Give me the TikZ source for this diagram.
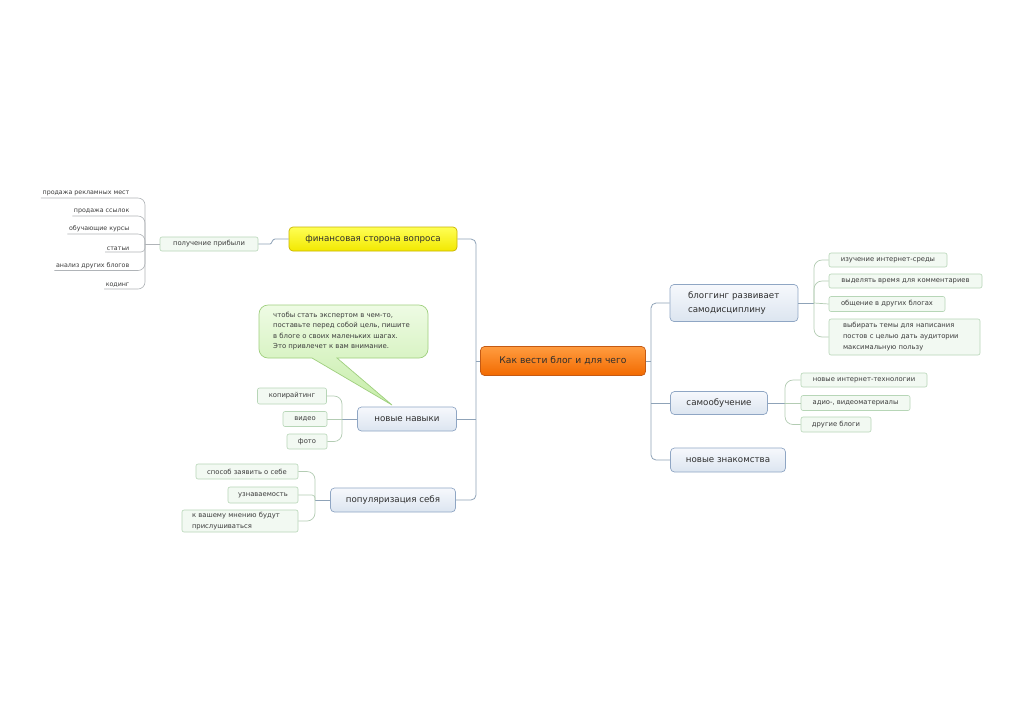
\documentclass[tikz,border=0pt]{standalone}
\usepackage{fontspec}
\setmainfont{DejaVu Sans}
\definecolor{connc}{HTML}{8FA3B8}
\definecolor{ulc}{HTML}{B0B4B8}
\definecolor{lconn}{HTML}{B3CCB3}
\definecolor{mainb}{HTML}{8FA6C4}
\definecolor{maint}{HTML}{F6F8FC}
\definecolor{mainbot}{HTML}{DCE5F0}
\definecolor{leafb}{HTML}{B7D6B7}
\definecolor{leaff}{HTML}{F2F9F2}
\definecolor{txt}{HTML}{2E2E2E}
\definecolor{txtb}{HTML}{3C3C3C}
\definecolor{orT}{HTML}{FF9C40}
\definecolor{orB}{HTML}{F26A00}
\definecolor{orD}{HTML}{C45A14}
\definecolor{yeT}{HTML}{FFFF55}
\definecolor{yeB}{HTML}{F2E800}
\definecolor{yeD}{HTML}{C9B400}
\definecolor{clT}{HTML}{EEFBE4}
\definecolor{clB}{HTML}{C6EDA8}
\definecolor{clD}{HTML}{9FCF7E}
\begin{document}
\begin{tikzpicture}[x=1pt,y=-1pt,
  conn/.style={draw=connc, line width=0.8pt, rounded corners=5pt},
  ulconn/.style={draw=ulc, line width=0.6pt, rounded corners=7pt},
  lfconn/.style={draw=lconn, line width=0.7pt, rounded corners=8pt},
  mainbox/.style={draw=mainb, line width=0.7pt, rounded corners=4pt, top color=maint, bottom color=mainbot, font=\fontsize{8.7}{13.5}\selectfont, text=txt, inner sep=0pt},
  centralbox/.style={draw=orD, line width=0.7pt, rounded corners=4pt, top color=orT, bottom color=orB, font=\fontsize{9.2}{12}\selectfont, text=txt, inner sep=0pt},
  finbox/.style={draw=yeD, line width=0.7pt, rounded corners=4pt, top color=yeT, bottom color=yeB, font=\fontsize{8.7}{12}\selectfont, text=txt, inner sep=0pt},
  leafbox/.style={draw=leafb, line width=0.6pt, rounded corners=2pt, fill=leaff, font=\fontsize{6.8}{11}\selectfont, text=txtb, inner sep=0pt},
  uleaf/.style={font=\fontsize{6.3}{8}\selectfont, inner sep=1.5pt, text=txtb, anchor=south east},
  notetext/.style={font=\fontsize{6.9}{10.3}\selectfont, text=txtb, inner sep=0pt, align=left, anchor=north west}
]
\useasboundingbox[fill=white] (0,0) rectangle (1024,724);

% callout
\draw[draw=clD, line width=0.7pt, top color=clT, bottom color=clB]
  (312,358) [sharp corners]-- (392,405) -- (337,358) [rounded corners=9pt]-- (428,358) -- (428,305) -- (259,305) -- (259,358) [sharp corners]-- cycle;
\node[notetext] (note) at (273,312) {чтобы стать экспертом в чем-то,\\поставьте перед собой цель, пишите\\в блоге о своих маленьких шагах.\\Это привлечет к вам внимание.};

% main nodes
\node[centralbox, minimum width=165pt, minimum height=29pt] (c) at (563,361) {Как вести блог и для чего};
\node[finbox, minimum width=168pt, minimum height=24pt] (fin) at (373,239) {финансовая сторона вопроса};
\node[mainbox, minimum width=99pt, minimum height=24pt] (nav) at (407,419) {новые навыки};
\node[mainbox, minimum width=125pt, minimum height=24pt] (pop) at (393,500) {популяризация себя};
\node[mainbox, minimum width=128pt, minimum height=37pt, inner xsep=18pt, text width=92pt, align=left] (blog) at (734,303) {блоггинг развивает\\самодисциплину};
\node[mainbox, minimum width=97pt, minimum height=23pt] (self) at (719,403) {самообучение};
\node[mainbox, minimum width=115pt, minimum height=24pt] (zn) at (728,460) {новые знакомства};

% leaf boxes
\node[leafbox, minimum width=98pt, minimum height=14pt] (pr) at (209,244) {получение прибыли};
\node[leafbox, minimum width=69pt, minimum height=16pt] (k1) at (292,396) {копирайтинг};
\node[leafbox, minimum width=44pt, minimum height=15pt] (k2) at (305,419) {видео};
\node[leafbox, minimum width=40pt, minimum height=15pt] (k3) at (307,441.5) {фото};
\node[leafbox, minimum width=102pt, minimum height=15pt] (p1) at (247,471.5) {способ заявить о себе};
\node[leafbox, minimum width=70pt, minimum height=16pt] (p2) at (263,495) {узнаваемость};
\node[leafbox, minimum width=116pt, minimum height=22pt, inner xsep=10pt, text width=96pt, align=left] (p3) at (240,521) {к вашему мнению будут\\прислушиваться};
\node[leafbox, minimum width=118pt, minimum height=14pt] (b1) at (888,260) {изучение интернет-среды};
\node[leafbox, minimum width=153pt, minimum height=14pt] (b2) at (905.5,281) {выделять время для комментариев};
\node[leafbox, minimum width=116pt, minimum height=15pt] (b3) at (887,304) {общение в других блогах};
\node[leafbox, minimum width=151pt, minimum height=36pt, inner xsep=14pt, text width=123pt, align=left] (b4) at (904.5,337) {выбирать темы для написания\\постов с целью дать аудитории\\максимальную пользу};
\node[leafbox, minimum width=126pt, minimum height=14pt] (s1) at (864,380) {новые интернет-технологии};
\node[leafbox, minimum width=109pt, minimum height=15pt] (s2) at (855.5,403) {адио-, видеоматериалы};
\node[leafbox, minimum width=70pt, minimum height=15pt] (s3) at (836,424.5) {другие блоги};

% underlined leaves
\node[uleaf] (u1) at (131,198) {продажа рекламных мест};
\node[uleaf] (u2) at (131,216) {продажа ссылок};
\node[uleaf] (u3) at (131,234) {обучающие курсы};
\node[uleaf] (u4) at (131,252) {статьи};
\node[uleaf] (u5) at (131,270.5) {анализ других блогов};
\node[uleaf] (u6) at (131,289) {кодинг};

% trunks
\draw[conn] (fin.east) -- (476,239) -- (476,500) -- (pop.east);
\draw[conn] (c.west) -- (476,361);
\draw[conn] (nav.east) -- (476,419);
\draw[conn] (blog.west) -- (651,303) -- (651,460) -- (zn.west);
\draw[conn] (c.east) -- (651,361);
\draw[conn] (self.west) -- (651,403);
\draw[conn] (pr.east) -- (265,244) .. controls (272,244) and (272,239) .. (280,239) -- (fin.west);

% parent-to-spine stubs
\coordinate (spu) at (145,244);
\coordinate (spk) at (342,419);
\coordinate (spp) at (315,500);
\coordinate (spb) at (814,303);
\coordinate (sps) at (785,403);
\draw[draw=ulc, line width=0.6pt] (pr.west) -- (spu);
\draw[conn, line width=0.7pt] (nav.west) -- (spk);
\draw[conn, line width=0.7pt] (pop.west) -- (spp);
\draw[conn, line width=0.7pt] (blog.east) -- (spb);
\draw[conn, line width=0.7pt] (self.east) -- (sps);

% underlined leaf connectors (underline included)
\foreach \n in {u1,u2,u3,u5,u6}{
  \draw[ulconn] (spu) -- (spu |- \n.south east) -- (\n.south east) -- (\n.south west);
}
\draw[ulconn, rounded corners=4pt] (spu) -- (spu |- u4.south east) -- (u4.south east) -- (u4.south west);

% leaf connectors
\foreach \n in {k1,k3}{ \draw[lfconn] (spk) -- (spk |- \n.east) -- (\n.east); }
\draw[lfconn] (spk) -- (k2.east);
\foreach \n in {p1,p3}{ \draw[lfconn] (spp) -- (spp |- \n.east) -- (\n.east); }
\draw[lfconn, rounded corners=3pt] (spp) -- (spp |- p2.east) -- (p2.east);
\foreach \n in {b1,b2,b4}{ \draw[lfconn] (spb) -- (spb |- \n.west) -- (\n.west); }
\draw[lfconn] (spb) -- (b3.west);
\foreach \n in {s1,s3}{ \draw[lfconn] (sps) -- (sps |- \n.west) -- (\n.west); }
\draw[lfconn] (sps) -- (s2.west);
\end{tikzpicture}
\end{document}
